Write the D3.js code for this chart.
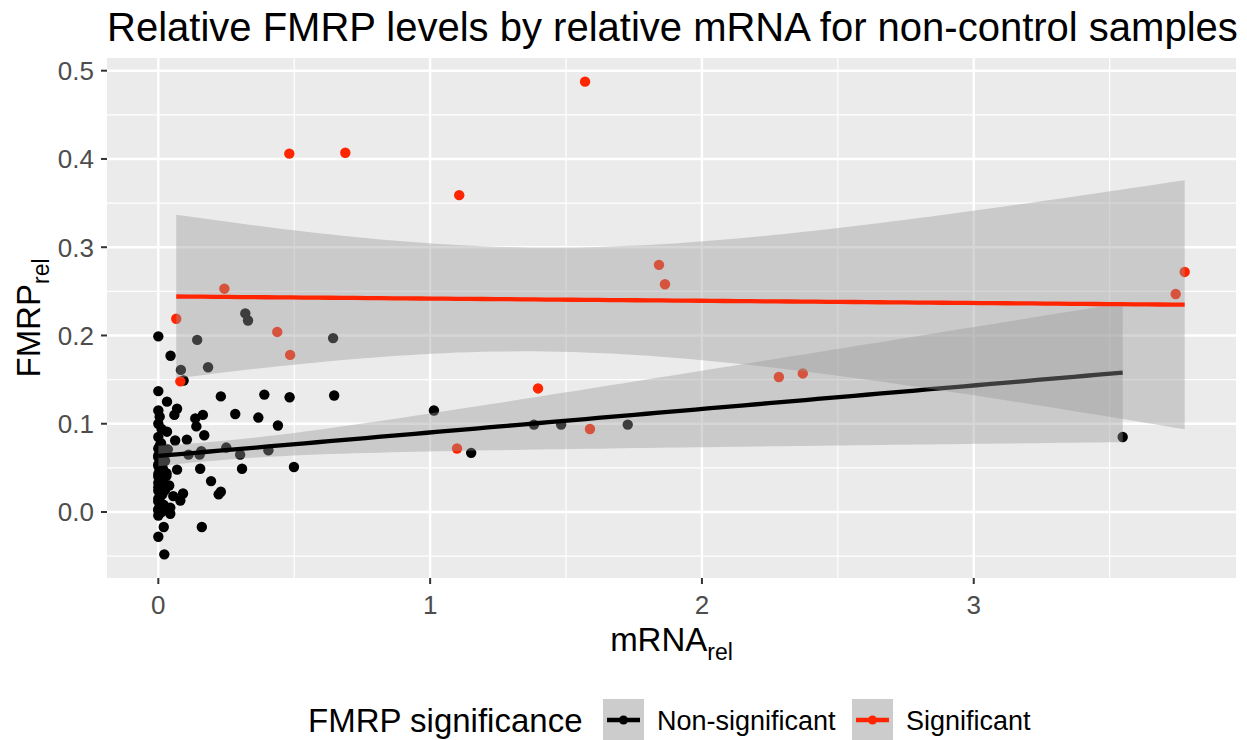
<!DOCTYPE html>
<html>
<head>
<meta charset="utf-8">
<script src="https://cdn.jsdelivr.net/npm/d3@7"></script>
<style>
  html, body { margin: 0; padding: 0; background: #ffffff; }
  svg { display: block; font-family: "Liberation Sans", Arial, sans-serif; }
</style>
</head>
<body>
<svg id="chart" width="1247" height="740"></svg>
<script>
// Non-significant samples: relative mRNA vs relative FMRP
const nonSigX = [
  0.000, 0.000, 0.032, 0.069, 0.059, 0.000, 0.005, 0.000, 0.012, 0.032,
  0.000, 0.062, 0.105, 0.010, 0.000, 0.020, 0.000, 0.008, 0.000, 0.018,
  0.069, 0.000, 0.010, 0.030, 0.000, 0.015, 0.040, 0.000, 0.055, 0.091,
  0.081, 0.008, 0.000, 0.020, 0.044, 0.000, 0.012, 0.044, 0.000, 0.020,
  0.000, 0.022, 0.160, 0.045,
  0.000, 0.005, 0.010, 0.000, 0.015, 0.025, 0.000, 0.020, 0.010, 0.000,
  0.030, 0.005, 0.015, 0.000, 0.025, 0.010, 0.000, 0.020, 0.035, 0.005,
  0.136, 0.164, 0.140, 0.169, 0.230, 0.283, 0.368, 0.390, 0.440, 0.483,
  0.647, 0.154, 0.308, 0.194, 0.222, 0.230, 0.499, 1.014, 1.151, 3.548,
  0.083, 0.143, 0.183, 0.320, 0.330, 0.643, 0.093, 0.111, 0.152, 0.158,
  0.250, 0.301, 0.405, 1.382, 1.482, 1.727
];
const nonSigY = [
  0.199, 0.137, 0.125, 0.117, 0.110, 0.115, 0.108, 0.100, 0.094, 0.091,
  0.085, 0.081, 0.082, 0.078, 0.072, 0.067, 0.062, 0.057, 0.052, 0.048,
  0.048, 0.043, 0.038, 0.041, 0.033, 0.029, 0.030, 0.024, 0.018, 0.021,
  0.013, 0.019, 0.012, 0.008, 0.005, 0.003, 0.000, -0.002, -0.004, -0.017,
  -0.028, -0.048, -0.017, 0.177,
  0.002, 0.006, 0.010, 0.015, 0.020, 0.025, 0.028, 0.032, 0.036, 0.040,
  0.044, 0.047, 0.050, 0.054, 0.058, 0.061, 0.064, 0.068, 0.071, 0.075,
  0.106, 0.110, 0.097, 0.087, 0.131, 0.111, 0.107, 0.133, 0.098, 0.130,
  0.132, 0.049, 0.049, 0.035, 0.020, 0.023, 0.051, 0.115, 0.067, 0.085,
  0.161, 0.195, 0.164, 0.225, 0.217, 0.197, 0.149, 0.065, 0.065, 0.069,
  0.073, 0.065, 0.070, 0.099, 0.099, 0.099
];

// Significant samples
const sigX = [1.570, 0.482, 0.688, 1.107, 1.842, 1.864, 3.776, 3.743, 0.243,
  0.4375, 0.485, 0.066, 0.081, 1.397, 2.283, 2.371, 1.099, 1.588];
const sigY = [0.4876, 0.406, 0.407, 0.359, 0.280, 0.258, 0.272, 0.247, 0.253,
  0.204, 0.178, 0.219, 0.148, 0.140, 0.153, 0.157, 0.072, 0.094];

const groupNames = ["Non-significant", "Significant"];
const groupColors = ["#000000", "#FF2500"];
const xTicks = [0, 1, 2, 3];
const yTicks = [0.0, 0.1, 0.2, 0.3, 0.4, 0.5];
const xMinor = [0.5, 1.5, 2.5, 3.5];
const yMinor = [-0.05, 0.05, 0.15, 0.25, 0.35, 0.45];

const svg = d3.select("#chart");
const panel = { left: 107, right: 1236, top: 58, bottom: 578 };

// ggplot-style 5% expansion of the data range
const allX = nonSigX.concat(sigX), allY = nonSigY.concat(sigY);
function expand(ext) { const d = (ext[1] - ext[0]) * 0.05; return [ext[0] - d, ext[1] + d]; }
const x = d3.scaleLinear().domain(expand(d3.extent(allX))).range([panel.left, panel.right]);
const y = d3.scaleLinear().domain(expand(d3.extent(allY))).range([panel.bottom, panel.top]);

// Panel background and grid
svg.append("rect").attr("x", panel.left).attr("y", panel.top)
  .attr("width", panel.right - panel.left).attr("height", panel.bottom - panel.top)
  .attr("fill", "#EBEBEB");
const grid = svg.append("g");
xMinor.forEach(v => grid.append("line").attr("x1", x(v)).attr("x2", x(v))
  .attr("y1", panel.top).attr("y2", panel.bottom).attr("stroke", "#fff").attr("stroke-width", 1.2));
yMinor.forEach(v => grid.append("line").attr("y1", y(v)).attr("y2", y(v))
  .attr("x1", panel.left).attr("x2", panel.right).attr("stroke", "#fff").attr("stroke-width", 1.2));
xTicks.forEach(v => grid.append("line").attr("x1", x(v)).attr("x2", x(v))
  .attr("y1", panel.top).attr("y2", panel.bottom).attr("stroke", "#fff").attr("stroke-width", 2.4));
yTicks.forEach(v => grid.append("line").attr("y1", y(v)).attr("y2", y(v))
  .attr("x1", panel.left).attr("x2", panel.right).attr("stroke", "#fff").attr("stroke-width", 2.4));

// Points
const groups = [
  { xs: nonSigX, ys: nonSigY, color: groupColors[0] },
  { xs: sigX, ys: sigY, color: groupColors[1] }
];
const pts = svg.append("g");
groups.forEach(g => {
  pts.selectAll(null).data(d3.range(g.xs.length)).enter().append("circle")
    .attr("cx", i => x(g.xs[i])).attr("cy", i => y(g.ys[i]))
    .attr("r", 5.2).attr("fill", g.color);
});

// Linear fit with 95% confidence band (t-based)
function tQuantile975(df) {
  const z = 1.959964;
  const z3 = z ** 3, z5 = z ** 5, z7 = z ** 7, z9 = z ** 9;
  return z + (z3 + z) / (4 * df) + (5 * z5 + 16 * z3 + 3 * z) / (96 * df * df)
    + (3 * z7 + 19 * z5 + 17 * z3 - 15 * z) / (384 * df ** 3)
    + (79 * z9 + 776 * z7 + 1482 * z5 - 1920 * z3 - 945 * z) / (92160 * df ** 4);
}
function lmFit(xs, ys) {
  const n = xs.length, mx = d3.mean(xs), my = d3.mean(ys);
  let sxx = 0, sxy = 0;
  for (let i = 0; i < n; i++) { sxx += (xs[i] - mx) ** 2; sxy += (xs[i] - mx) * (ys[i] - my); }
  const b = sxy / sxx, a = my - b * mx;
  let sse = 0;
  for (let i = 0; i < n; i++) sse += (ys[i] - a - b * xs[i]) ** 2;
  const s = Math.sqrt(sse / (n - 2)), t = tQuantile975(n - 2);
  const ext = d3.extent(xs);
  return d3.range(80).map(k => {
    const xv = ext[0] + (ext[1] - ext[0]) * k / 79;
    const fit = a + b * xv;
    const se = s * Math.sqrt(1 / n + (xv - mx) ** 2 / sxx);
    return { x: xv, fit, lo: fit - t * se, hi: fit + t * se };
  });
}
const area = d3.area().x(d => x(d.x)).y0(d => y(d.lo)).y1(d => y(d.hi));
const line = d3.line().x(d => x(d.x)).y(d => y(d.fit));
const smooth = svg.append("g");
groups.forEach(g => {
  const curve = lmFit(g.xs, g.ys);
  smooth.append("path").datum(curve).attr("d", area)
    .attr("fill", "#999999").attr("fill-opacity", 0.4);
  smooth.append("path").datum(curve).attr("d", line)
    .attr("fill", "none").attr("stroke", g.color).attr("stroke-width", 4.3);
});

// Axes
const axisG = svg.append("g");
xTicks.forEach(v => {
  axisG.append("line").attr("x1", x(v)).attr("x2", x(v)).attr("y1", panel.bottom).attr("y2", panel.bottom + 6)
    .attr("stroke", "#333333").attr("stroke-width", 2);
  axisG.append("text").attr("x", x(v)).attr("y", 614).attr("text-anchor", "middle")
    .attr("font-size", 26).attr("fill", "#4D4D4D").text(d3.format("d")(v));
});
yTicks.forEach(v => {
  axisG.append("line").attr("x1", panel.left - 6).attr("x2", panel.left).attr("y1", y(v)).attr("y2", y(v))
    .attr("stroke", "#333333").attr("stroke-width", 2);
  axisG.append("text").attr("x", 94).attr("y", y(v)).attr("dy", "0.36em").attr("text-anchor", "end")
    .attr("font-size", 26).attr("fill", "#4D4D4D").text(d3.format(".1f")(v));
});

// Axis titles
const xt = svg.append("text").attr("x", (panel.left + panel.right) / 2).attr("y", 651)
  .attr("text-anchor", "middle").attr("font-size", 33).attr("fill", "#000");
xt.append("tspan").text("mRNA");
xt.append("tspan").attr("font-size", 23).attr("dy", 9).text("rel");

const yt = svg.append("text").attr("transform", `translate(40,${(panel.top + panel.bottom) / 2}) rotate(-90)`)
  .attr("text-anchor", "middle").attr("font-size", 33).attr("fill", "#000");
yt.append("tspan").text("FMRP");
yt.append("tspan").attr("font-size", 23).attr("dy", 9).text("rel");

// Title
svg.append("text").attr("x", panel.left).attr("y", 41).attr("font-size", 40).attr("fill", "#000")
  .text("Relative FMRP levels by relative mRNA for non-control samples");

// Legend
const lg = svg.append("g");
lg.append("text").attr("x", 308).attr("y", 732).attr("font-size", 33).attr("fill", "#000").text("FMRP significance");
const keyX = [603, 852], labX = [657, 906];
groupNames.forEach((name, i) => {
  lg.append("rect").attr("x", keyX[i]).attr("y", 699).attr("width", 41).attr("height", 41).attr("fill", "#CCCCCC");
  lg.append("line").attr("x1", keyX[i] + 4).attr("x2", keyX[i] + 37).attr("y1", 720).attr("y2", 720)
    .attr("stroke", groupColors[i]).attr("stroke-width", 4.3);
  lg.append("circle").attr("cx", keyX[i] + 20.5).attr("cy", 720).attr("r", 4.5).attr("fill", groupColors[i]);
  lg.append("text").attr("x", labX[i]).attr("y", 730).attr("font-size", 27).attr("fill", "#000").text(name);
});
</script>
</body>
</html>
